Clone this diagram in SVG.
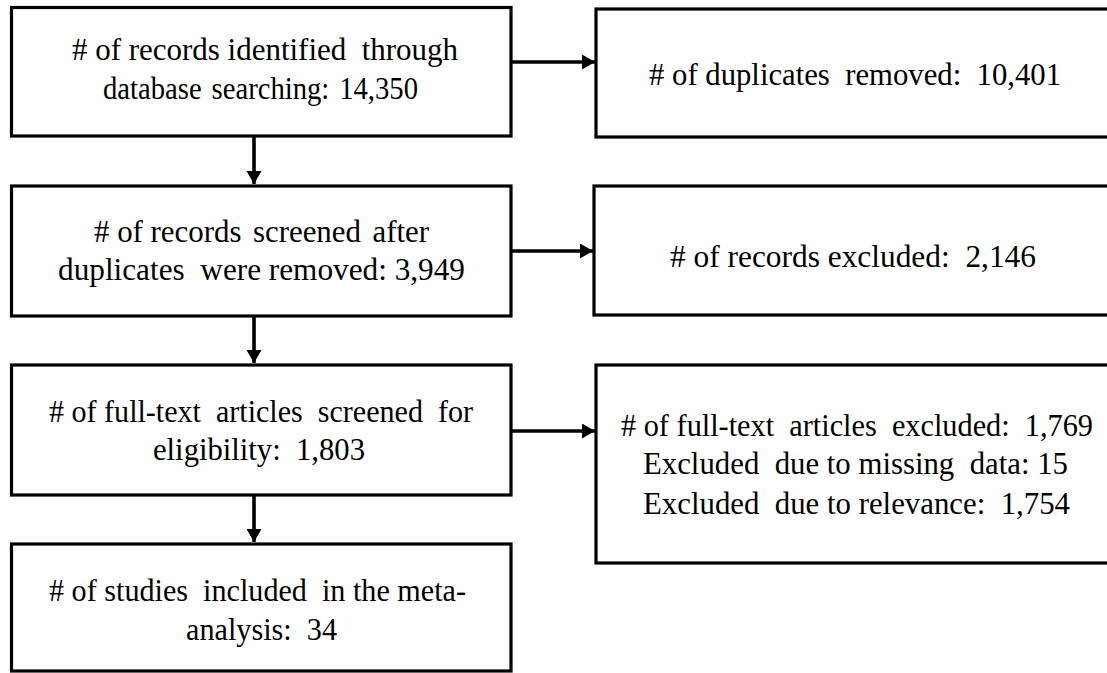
<svg xmlns="http://www.w3.org/2000/svg" width="1107" height="673" viewBox="0 0 1107 673">
<style>
  .box { fill: #ffffff; stroke: #000000; stroke-width: 3.2; }
  .lbl { font-family: "Liberation Serif", "Times New Roman", serif; font-size: 32px; fill: #000000; text-anchor: middle; }
  .conn { stroke: #000000; stroke-width: 3.6; fill: none; }
</style>
<defs>
  <marker id="arrow" markerUnits="userSpaceOnUse" markerWidth="14" markerHeight="16" refX="13" refY="7.5" orient="auto">
    <path d="M0,0 L13,7.5 L0,15 z" fill="#000000"/>
  </marker>
</defs>
<rect width="1107" height="673" fill="#ffffff"/>

<g id="node-identified">
  <rect class="box" x="11.5" y="7.5" width="499.5" height="128.5"/>
  <text class="lbl" x="265" y="60" textLength="386" lengthAdjust="spacingAndGlyphs"># of records identified <tspan dx="8">through</tspan></text>
  <text class="lbl" x="260.5" y="99" word-spacing="3" textLength="315" lengthAdjust="spacingAndGlyphs">database searching: 14,350</text>
</g>

<g id="node-screened">
  <rect class="box" x="11.5" y="186" width="499.5" height="130"/>
  <text class="lbl" x="261.5" y="242" textLength="335" lengthAdjust="spacingAndGlyphs"># of records <tspan dx="4">screened</tspan> <tspan dx="4">after</tspan></text>
  <text class="lbl" x="261.5" y="280" textLength="407" lengthAdjust="spacingAndGlyphs">duplicates <tspan dx="8">were</tspan> removed: 3,949</text>
</g>

<g id="node-fulltext">
  <rect class="box" x="11.5" y="365" width="499.5" height="130"/>
  <text class="lbl" x="261" y="422" textLength="424" lengthAdjust="spacingAndGlyphs"># of full-text <tspan dx="8">articles</tspan> <tspan dx="8">screened</tspan> <tspan dx="8">for</tspan></text>
  <text class="lbl" x="259" y="460" textLength="212" lengthAdjust="spacingAndGlyphs">eligibility: <tspan dx="8">1,803</tspan></text>
</g>

<g id="node-included">
  <rect class="box" x="11.5" y="544" width="499.5" height="127"/>
  <text class="lbl" x="257.5" y="601" textLength="417" lengthAdjust="spacingAndGlyphs"># of studies <tspan dx="8">included</tspan> <tspan dx="8">in</tspan> the meta-</text>
  <text class="lbl" x="261.5" y="640" textLength="151" lengthAdjust="spacingAndGlyphs">analysis: <tspan dx="8">34</tspan></text>
</g>

<g id="node-duplicates">
  <rect class="box" x="596" y="9" width="520" height="128"/>
  <text class="lbl" x="855" y="85" textLength="412" lengthAdjust="spacingAndGlyphs"># of duplicates <tspan dx="8">removed:</tspan> <tspan dx="8">10,401</tspan></text>
</g>

<g id="node-records-excluded">
  <rect class="box" x="594" y="186" width="522" height="129"/>
  <text class="lbl" x="853" y="267" textLength="366" lengthAdjust="spacingAndGlyphs"># of records excluded: <tspan dx="8">2,146</tspan></text>
</g>

<g id="node-fulltext-excluded">
  <rect class="box" x="596" y="365" width="520" height="198"/>
  <text class="lbl" x="857" y="436" textLength="472" lengthAdjust="spacingAndGlyphs"># of full-text <tspan dx="8">articles</tspan> <tspan dx="8">excluded:</tspan> <tspan dx="8">1,769</tspan></text>
  <text class="lbl" x="855.5" y="474" textLength="425" lengthAdjust="spacingAndGlyphs">Excluded <tspan dx="8">due</tspan> to missing <tspan dx="8">data:</tspan> 15</text>
  <text class="lbl" x="856.5" y="514" textLength="427" lengthAdjust="spacingAndGlyphs">Excluded <tspan dx="8">due</tspan> to relevance: <tspan dx="8">1,754</tspan></text>
</g>

<g id="connectors">
  <line class="conn" x1="254" y1="136" x2="254" y2="184" marker-end="url(#arrow)"/>
  <line class="conn" x1="254" y1="316" x2="254" y2="363" marker-end="url(#arrow)"/>
  <line class="conn" x1="254" y1="495" x2="254" y2="542" marker-end="url(#arrow)"/>
  <line class="conn" x1="511" y1="62" x2="595" y2="62" marker-end="url(#arrow)"/>
  <line class="conn" x1="511" y1="251" x2="593" y2="251" marker-end="url(#arrow)"/>
  <line class="conn" x1="511" y1="431" x2="595" y2="431" marker-end="url(#arrow)"/>
</g>
</svg>
